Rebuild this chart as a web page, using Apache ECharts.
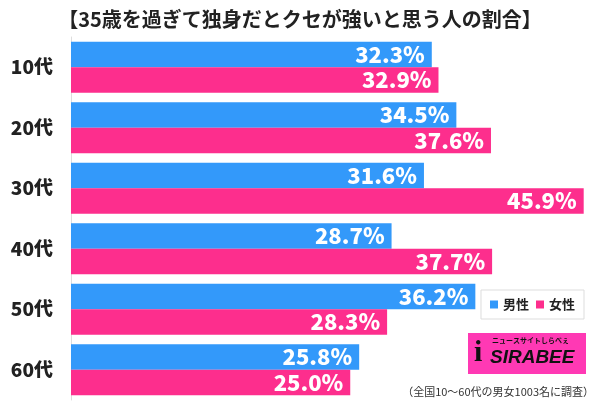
<!DOCTYPE html>
<html><head><meta charset="utf-8">
<script src="https://cdn.jsdelivr.net/npm/echarts@6/dist/echarts.min.js"></script>
<style>html,body{margin:0;padding:0;background:#fff}#c{width:600px;height:407px}</style>
</head><body><div id="c"></div>
<script>
const categories = ['10代','20代','30代','40代','50代','60代'];
const male = [32.3, 34.5, 31.6, 28.7, 36.2, 25.8];
const female = [32.9, 37.6, 45.9, 37.7, 28.3, 25.0];
const seriesNames = ['男性','女性'];
const title = '【35歳を過ぎて独身だとクセが強いと思う人の割合】';
const note = '（全国10～60代の男女1003名に調査）';

const BLUE = '#3399fa', PINK = '#fd2e8d';
const FONT = '"Noto Sans CJK JP", "Noto Sans", sans-serif';
const chart = echarts.init(document.getElementById('c'));
const lbl = {show:true, position:'insideRight', distance:7, color:'#fff', fontSize:22, fontWeight:900, fontFamily:FONT, formatter: p => p.value.toFixed(1)+'%'};
chart.setOption({
  animation:false,
  title:{text:title, left:'center', top:4, textStyle:{fontSize:20, fontWeight:'bold', color:'#222', fontFamily:FONT}},
  legend:{data:seriesNames, right:16, top:290, orient:'horizontal', itemWidth:8, itemHeight:8, itemGap:7, icon:'rect',
    backgroundColor:'#fff', borderColor:'#ddd', borderWidth:1, padding:[8,9], textStyle:{fontSize:13, fontWeight:'bold', color:'#222', fontFamily:FONT}},
  grid:{left:71, right:0, top:37, bottom:7},
  xAxis:{type:'value', min:0, max:47.36, show:false},
  yAxis:{type:'category', data:categories, inverse:true,
    axisLine:{show:true, lineStyle:{color:'#ddd', width:1}}, axisTick:{show:false},
    axisLabel:{fontSize:19, fontWeight:900, color:'#222', fontFamily:FONT, margin:18}},
  series:[
    {name:seriesNames[0], type:'bar', data:male, itemStyle:{color:BLUE}, barGap:'0%', barCategoryGap:'16%', label:lbl},
    {name:seriesNames[1], type:'bar', data:female, itemStyle:{color:PINK}, label:lbl}
  ],
  graphic:[
    {type:'rect', shape:{x:468, y:333, width:118, height:41}, style:{fill:'#ff39b4'}, z:10},
    {type:'text', left:490, top:348, style:{text:'SIRABEE', fontSize:19, fontWeight:'bold', fontStyle:'italic', fill:'#111', fontFamily:'"Liberation Sans", sans-serif'}, z:11},
    {type:'text', left:492, top:337, style:{text:'ニュースサイトしらべぇ', fontSize:7, fontWeight:'bold', fill:'#111', fontFamily:FONT}, z:11},
    {type:'text', left:474, top:338, style:{text:'i', fontSize:30, fontWeight:'bold', fill:'#111', fontFamily:'"Liberation Serif", serif'}, z:11},
    {type:'text', right:6, top:386, style:{text:note, fontSize:11, fill:'#333', fontFamily:FONT}, z:11}
  ]
});
</script></body></html>
